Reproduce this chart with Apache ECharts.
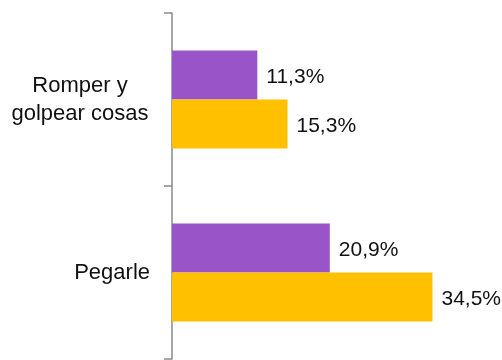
<!DOCTYPE html>
<html>
<head>
<meta charset="utf-8">
<style>
  html, body { margin: 0; padding: 0; background: #ffffff; }
  #chart { width: 502px; height: 360px; }
</style>
<script src="https://cdn.jsdelivr.net/npm/echarts@6/dist/echarts.min.js"></script>
</head>
<body>
<div id="chart"></div>
<script>
// Categories (top to bottom) and the two series of percentages
const categories = ['Romper y golpear cosas', 'Pegarle'];
const seriesPurple = [11.3, 20.9];
const seriesYellow = [15.3, 34.5];

const FONT = '"Liberation Sans", Arial, Helvetica, sans-serif';

const chart = echarts.init(document.getElementById('chart'), null, { renderer: 'canvas' });

function pctLabel(p) {
  return p.value.toFixed(1).replace('.', ',') + '%';
}

const barLabel = {
  show: true,
  position: 'right',
  distance: 9,
  offset: [0, 2],
  formatter: pctLabel,
  color: '#111111',
  fontFamily: FONT,
  fontSize: 21
};

chart.setOption({
  animation: false,
  grid: { left: 172, top: 13, bottom: 1, width: 302 },
  xAxis: {
    type: 'value',
    min: 0,
    max: 40,
    show: false
  },
  yAxis: {
    type: 'category',
    inverse: true,
    data: categories,
    axisLine: { show: true, lineStyle: { color: '#8a8a8a', width: 1.5 } },
    axisTick: { show: true, length: 8, lineStyle: { color: '#8a8a8a', width: 1.5 } },
    axisLabel: {
      margin: 22,
      color: '#111111',
      fontFamily: FONT,
      fontSize: 22,
      lineHeight: 28,
      formatter: function (v) {
        if (v === 'Romper y golpear cosas') {
          return '{m|Romper y}\n{m|golpear cosas}';
        }
        return v;
      },
      rich: {
        m: { width: 140, align: 'center', fontFamily: FONT, fontSize: 22, lineHeight: 28, color: '#111111' }
      }
    }
  },
  series: [
    {
      type: 'bar',
      data: seriesPurple,
      barWidth: 49,
      barGap: '0%',
      itemStyle: { color: '#9955c8' },
      label: barLabel
    },
    {
      type: 'bar',
      data: seriesYellow,
      barWidth: 49,
      barGap: '0%',
      itemStyle: { color: '#ffc000' },
      label: barLabel
    }
  ]
});
</script>
</body>
</html>
